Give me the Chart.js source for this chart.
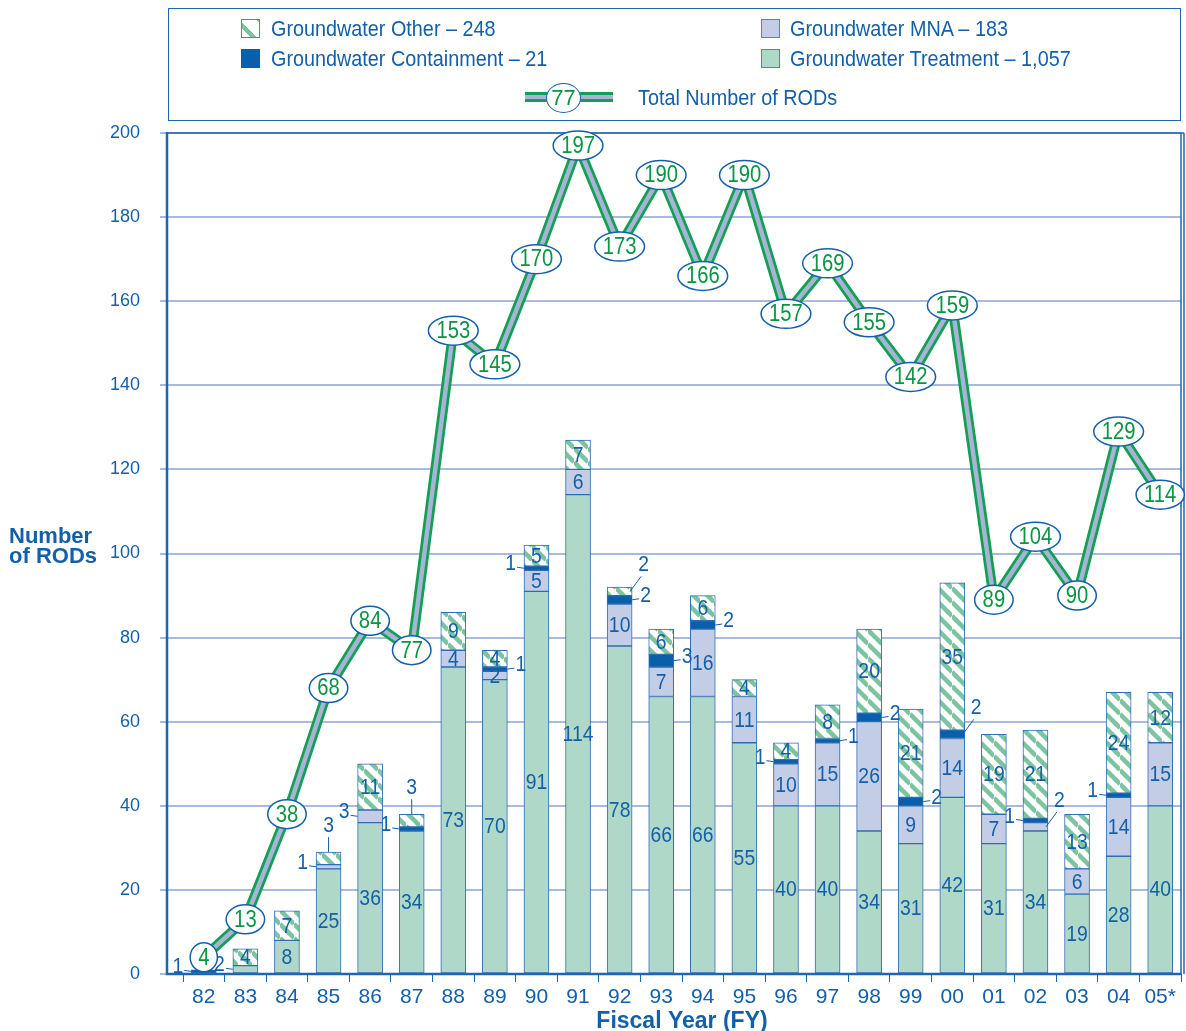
<!DOCTYPE html>
<html>
<head>
<meta charset="utf-8">
<script src="https://cdn.jsdelivr.net/npm/chart.js@4"></script>
<style>
  body { margin: 0; background: #fff; }
  #wrap { position: relative; width: 1186px; height: 1031px; font-family: 'Liberation Sans', sans-serif; color: #1360aa; }
  #chart { position: absolute; left: 0; top: 0; }
  .box { position: absolute; left: 168px; top: 8px; width: 1011px; height: 111px; border: 1px solid #1f66b0; }
  .item { position: absolute; font-size: 22px; line-height: 22px; white-space: nowrap; transform: scaleX(0.9); transform-origin: left center; }
  .sw { position: absolute; width: 19px; height: 19px; box-sizing: border-box; }
  .ytitle { position: absolute; left: 9px; top: 526px; font: bold 22px/20px 'Liberation Sans', sans-serif; }
</style>
</head>
<body>
<div id="wrap">
  <canvas id="chart" width="1186" height="1031"></canvas>
  <div class="box"></div>
  <div class="sw" style="left:241px;top:19px;border:1px solid #4a86c4;background:repeating-linear-gradient(45deg,#fff 0 6px,#7cc4a0 6px 10px,#fff 10px 16px);"></div>
  <div class="item" style="left:271px;top:18px;">Groundwater Other – 248</div>
  <div class="sw" style="left:241px;top:49px;background:#0a5fab;"></div>
  <div class="item" style="left:271px;top:48px;">Groundwater Containment – 21</div>
  <div class="sw" style="left:761px;top:19px;border:1px solid #4a86c4;background:#c3cde6;"></div>
  <div class="item" style="left:790px;top:18px;">Groundwater MNA – 183</div>
  <div class="sw" style="left:761px;top:49px;border:1px solid #4a86c4;background:#b0d8c8;"></div>
  <div class="item" style="left:790px;top:48px;">Groundwater Treatment – 1,057</div>
  <div style="position:absolute;left:525px;top:92px;width:88px;height:10px;background:#13a055;"></div>
  <div style="position:absolute;left:525px;top:95px;width:88px;height:4px;background:#a8b4d6;"></div>
  <div style="position:absolute;left:546px;top:83px;width:33px;height:28px;border:1.5px solid #1360aa;border-radius:50%;background:#fff;color:#0b9444;font-size:22px;line-height:28px;text-align:center;">77</div>
  <div class="item" style="left:638px;top:87px;">Total Number of RODs</div>
  <div class="ytitle">Number<br>of RODs</div>
</div>
<script>
const years = ['82','83','84','85','86','87','88','89','90','91','92','93','94','95','96','97','98','99','00','01','02','03','04','05*'];
const treatment   = [0,2,8,25,36,34,73,70,91,114,78,66,66,55,40,40,34,31,42,31,34,19,28,40];
const mna         = [0,0,0,1,3,0,4,2,5,6,10,7,16,11,10,15,26,9,14,7,2,6,14,15];
const containment = [1,0,0,0,0,1,0,1,1,0,2,3,2,0,1,1,2,2,2,0,1,0,1,0];
const other       = [0,4,7,3,11,3,9,4,5,7,2,6,6,4,4,8,20,21,35,19,21,13,24,12];
const totals      = [4,13,38,68,84,77,153,145,170,197,173,190,166,190,157,169,155,142,159,89,104,90,129,114];
const yTicks      = [0,20,40,60,80,100,120,140,160,180,200];

// where small segment labels go: "yearIndex-datasetIndex" -> side
const callouts = {
  '0-2': 'l', '1-0': 'l', '3-1': 'l', '3-3': 't', '4-1': 'l', '5-2': 'l', '5-3': 't',
  '7-2': 'r', '8-2': 'l', '10-2': 'r', '10-3': 'tr', '11-2': 'r', '12-2': 'r',
  '14-2': 'l', '15-2': 'r', '16-2': 'r', '17-2': 'r', '18-2': 'tr', '20-1': 'tr', '20-2': 'l', '22-2': 'l'
};

const BLUE = '#1360aa';
const GREEN_TXT = '#0b9444';
const FONT = "'Liberation Sans', sans-serif";

// hatched fill for "Other"
function hatch() {
  const s = 14;
  const c = document.createElement('canvas');
  c.width = s; c.height = s;
  const g = c.getContext('2d');
  g.fillStyle = '#fff';
  g.fillRect(0, 0, s, s);
  g.strokeStyle = '#7cc4a0';
  g.lineWidth = 4.5;
  for (const k of [-s, 0, s]) {
    g.beginPath();
    g.moveTo(0, k);
    g.lineTo(s, k + s);
    g.stroke();
  }
  return g.createPattern(c, 'repeat');
}

const noZero = arr => arr.map(v => (v === 0 ? null : v));

function barSet(label, data, bg) {
  return {
    type: 'bar', label, data: noZero(data), backgroundColor: bg,
    borderColor: '#2f6db3', borderWidth: 1, borderSkipped: false,
    barThickness: 25, stack: 'gw', order: 2
  };
}

// condensed-looking text on the canvas
function narrowText(ctx, txt, x, y, align) {
  const k = 0.88;
  const w = ctx.measureText(txt).width * k;
  let x0 = x;
  if (align === 'center') x0 = x - w / 2;
  else if (align === 'right') x0 = x - w;
  ctx.save();
  ctx.translate(x0, y);
  ctx.scale(k, 1);
  ctx.textAlign = 'left';
  ctx.fillText(txt, 0, 0);
  ctx.restore();
}

const labelPlugin = {
  id: 'segLabels',
  beforeDatasetDraw(chart, args) {
    if (args.index !== 4) return;
    const ctx = chart.ctx;
    ctx.save();
    ctx.font = '22px ' + FONT;
    ctx.fillStyle = BLUE;
    ctx.strokeStyle = BLUE;
    ctx.lineWidth = 1;
    ctx.textBaseline = 'middle';
    for (let d = 0; d < 4; d++) {
      const meta = chart.getDatasetMeta(d);
      const vals = chart.data.datasets[d].data;
      meta.data.forEach((bar, i) => {
        const v = vals[i];
        if (v == null) return;
        const top = Math.min(bar.y, bar.base), bot = Math.max(bar.y, bar.base);
        const cy = (top + bot) / 2;
        const left = bar.x - bar.width / 2, right = bar.x + bar.width / 2;
        const side = callouts[i + '-' + d];
        const txt = String(v);
        ctx.beginPath();
        if (!side) {
          narrowText(ctx, txt, bar.x, cy + 1, 'center');
          return;
        }
        if (side === 'l') {
          narrowText(ctx, txt, left - 8, cy - 4, 'right');
          ctx.moveTo(left - 7, cy - 1); ctx.lineTo(left, cy);
        } else if (side === 'r') {
          narrowText(ctx, txt, right + 8, cy - 4, 'left');
          ctx.moveTo(right, cy); ctx.lineTo(right + 7, cy - 1);
        } else if (side === 'tr') {
          narrowText(ctx, txt, right + 6, cy - 26, 'left');
          ctx.moveTo(right - 2, cy); ctx.lineTo(right + 9, cy - 15);
        } else if (side === 't') {
          narrowText(ctx, txt, bar.x, top - 26, 'center');
          ctx.moveTo(bar.x, top - 15); ctx.lineTo(bar.x, top);
        }
        ctx.stroke();
      });
    }
    ctx.restore();
  }
};

const framePlugin = {
  id: 'frame',
  beforeDatasetsDraw(chart) {
    const { ctx, chartArea: a } = chart;
    ctx.save();
    ctx.strokeStyle = '#1f66b0';
    ctx.lineWidth = 2.5;
    ctx.beginPath();
    ctx.moveTo(167, a.top - 1); ctx.lineTo(167, a.bottom);
    ctx.lineTo(a.right, a.bottom);
    ctx.stroke();
    ctx.lineWidth = 1.5;
    ctx.beginPath();
    ctx.moveTo(167, a.top); ctx.lineTo(a.right + 3, a.top);
    ctx.moveTo(a.right, a.top); ctx.lineTo(a.right, a.bottom);
    ctx.moveTo(a.right + 3, a.top); ctx.lineTo(a.right + 3, a.bottom);
    ctx.stroke();
    ctx.restore();
  }
};

const ovalPlugin = {
  id: 'ovals',
  afterDatasetsDraw(chart) {
    const ctx = chart.ctx;
    const meta = chart.getDatasetMeta(5);
    ctx.save();
    ctx.font = '23px ' + FONT;
    ctx.textBaseline = 'middle';
    meta.data.forEach((pt, i) => {
      const txt = String(totals[i]);
      const w = ctx.measureText(txt).width * 0.88;
      ctx.beginPath();
      ctx.ellipse(pt.x, pt.y, w / 2 + 8, 14.5, 0, 0, Math.PI * 2);
      ctx.fillStyle = '#fff';
      ctx.fill();
      ctx.lineWidth = 1.5;
      ctx.strokeStyle = BLUE;
      ctx.stroke();
      ctx.fillStyle = GREEN_TXT;
      narrowText(ctx, txt, pt.x, pt.y + 1, 'center');
    });
    ctx.restore();
  }
};

new Chart(document.getElementById('chart'), {
  data: {
    labels: years,
    datasets: [
      barSet('Groundwater Treatment', treatment, '#b0d8c8'),
      barSet('Groundwater MNA', mna, '#c3cde6'),
      barSet('Groundwater Containment', containment, '#0a5fab'),
      barSet('Groundwater Other', other, hatch()),
      { type: 'line', label: 'Total Number of RODs', data: totals, borderColor: '#13a055', borderWidth: 10,
        pointRadius: 0, tension: 0, stack: 'l1', order: 1 },
      { type: 'line', label: 'Total inner', data: totals, borderColor: '#a8b4d6', borderWidth: 4.5,
        pointRadius: 0, tension: 0, stack: 'l2', order: 0 }
    ]
  },
  options: {
    responsive: false,
    animation: false,
    devicePixelRatio: 1,
    layout: { padding: { top: 133, right: 5, left: 0, bottom: 0 } },
    plugins: { legend: { display: false }, tooltip: { enabled: false } },
    scales: {
      x: {
        stacked: true,
        offset: true,
        grid: { display: true, drawOnChartArea: false, drawTicks: true, tickLength: 8, color: '#1f66b0', offset: true },
        border: { display: false },
        ticks: { color: BLUE, font: { family: FONT, size: 21 }, padding: 3, autoSkip: false, maxRotation: 0 },
        title: { display: true, text: 'Fiscal Year (FY)', color: BLUE, font: { family: FONT, size: 23, weight: 'bold', lineHeight: 0.85 }, padding: { top: 0, bottom: 0 } },
        afterFit: s => { s.height = 57; }
      },
      y: {
        stacked: true,
        min: 0,
        max: 200,
        afterBuildTicks: s => { s.ticks = yTicks.map(v => ({ value: v })); },
        ticks: { color: BLUE, font: { family: FONT, size: 18 }, padding: 20 },
        grid: { color: '#a9bade', lineWidth: 2, tickLength: 23, tickColor: '#a9bade' },
        border: { display: false },
        afterFit: s => { s.width = 183; }
      }
    }
  },
  plugins: [framePlugin, labelPlugin, ovalPlugin]
});
</script>
</body>
</html>
